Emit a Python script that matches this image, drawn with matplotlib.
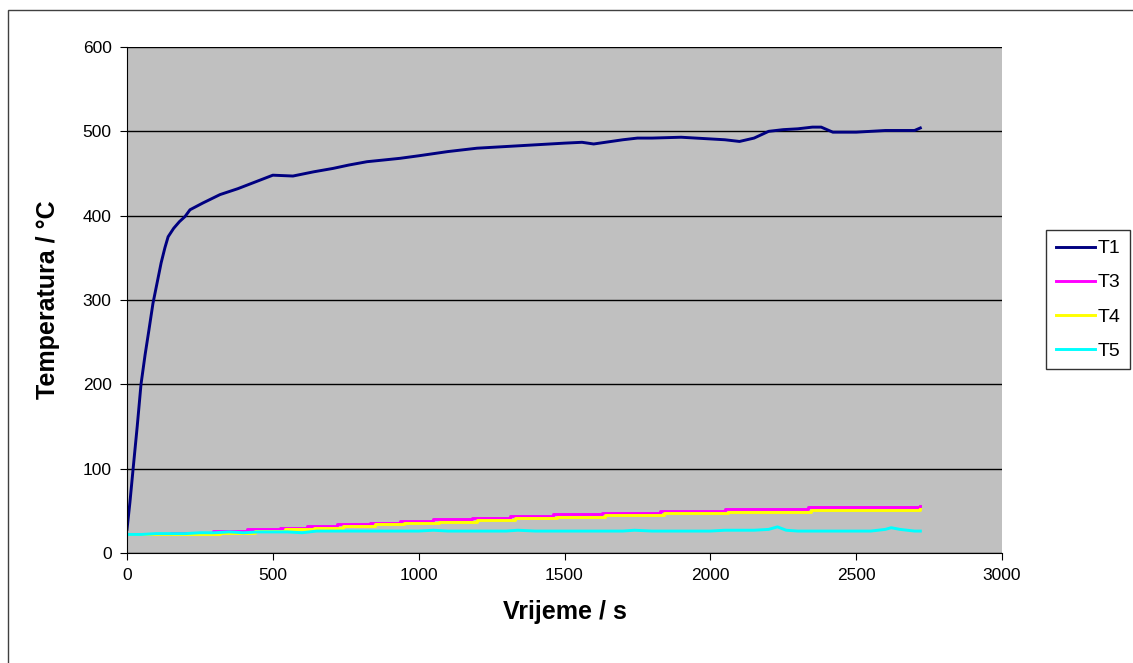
import matplotlib.pyplot as plt
from matplotlib.patches import Rectangle

plt.rcParams['font.family'] = ['Liberation Sans', 'DejaVu Sans']

# T1 - hot side
t1_time = [0, 10, 21, 35, 48, 62, 75, 89, 103, 117, 130, 141, 160, 180, 199, 216, 260, 319, 380,
           440, 500, 569, 640, 706, 760, 823, 880, 936, 1000, 1100, 1200, 1300, 1400, 1500, 1560,
           1600, 1640, 1700, 1750, 1800, 1900, 2000, 2050, 2100, 2150, 2200, 2250, 2300, 2350,
           2380, 2420, 2500, 2600, 2700, 2720]
t1_vals = [28, 60, 100, 150, 200, 235, 264, 296, 320, 344, 362, 375, 385, 393, 399, 407, 415, 425,
           432, 440, 448, 447, 452, 456, 460, 464, 466, 468, 471, 476, 480, 482, 484, 486, 487,
           485, 487, 490, 492, 492, 493, 491, 490, 488, 492, 500, 502, 503, 505, 505, 499, 499,
           501, 501, 504]

# T3 / T4 - stepped readings
t3_time = [0, 150, 295, 411, 525, 617, 720, 833, 936, 1049, 1183, 1313, 1460, 1629, 1827, 2050,
           2335, 2720]
t3_vals = [22, 24, 26, 28, 30, 32, 34, 36, 38, 40, 42, 44, 46, 48, 50, 52, 54, 56]
t4_time = [0, 180, 320, 440, 540, 640, 740, 850, 950, 1070, 1200, 1330, 1475, 1640, 1840, 2060,
           2345, 2720]
t4_vals = [22, 23, 24, 26, 28, 30, 32, 34, 35, 37, 39, 41, 43, 45, 47, 49, 51, 52]

# T5 - cold side
t5_time = [0, 50, 100, 150, 200, 250, 300, 350, 400, 450, 500, 550, 600, 650, 700, 800, 900, 1000,
           1050, 1100, 1200, 1300, 1340, 1400, 1500, 1600, 1700, 1740, 1800, 1900, 2000, 2050,
           2100, 2150, 2200, 2230, 2260, 2300, 2400, 2500, 2550, 2600, 2620, 2650, 2700, 2720]
t5_vals = [22, 22, 23, 23, 23, 24, 24, 25, 24, 25, 25, 25, 24, 26, 26, 26, 26, 26, 27, 26, 26, 26,
           27, 26, 26, 26, 26, 27, 26, 26, 26, 27, 27, 27, 28, 31, 27, 26, 26, 26, 26, 28, 30, 28,
           26, 26]

y_ticks = [0, 100, 200, 300, 400, 500, 600]
x_ticks = [0, 500, 1000, 1500, 2000, 2500, 3000]

fig = plt.figure(figsize=(11.33, 6.63), dpi=100)
ax = fig.add_axes([127 / 1133, 1 - 553 / 663, 875 / 1133, 506 / 663])
ax.set_facecolor('#C0C0C0')

ax.plot(t1_time, t1_vals, color='#000080', lw=2.1, label='T1')
ax.plot(t3_time, t3_vals, color='#FF00FF', lw=2.1, drawstyle='steps-post', label='T3')
ax.plot(t4_time, t4_vals, color='#FFFF00', lw=2.1, drawstyle='steps-post', label='T4')
ax.plot(t5_time, t5_vals, color='#00FFFF', lw=2.1, label='T5')

ax.set_xlim(0, 3000)
ax.set_ylim(0, 600)
ax.set_xticks(x_ticks)
ax.set_yticks(y_ticks)
ax.yaxis.grid(True, color='black', lw=1)
ax.set_axisbelow(True)
ax.tick_params(labelsize=12.5, length=5, direction='out', pad=6)
for s in ['top', 'right']:
    ax.spines[s].set_visible(False)

ax.set_xlabel('Vrijeme / s', fontsize=18, fontweight='bold', labelpad=12)
ax.set_ylabel('Temperatura / °C', fontsize=18, fontweight='bold', labelpad=16)

leg = ax.legend(loc='upper left', bbox_to_anchor=(1046 / 1133, 1 - 230 / 663),
                bbox_transform=fig.transFigure, fontsize=14, frameon=True, fancybox=False,
                handlelength=2.0, handletextpad=0.15, borderaxespad=0, labelspacing=0.85,
                borderpad=0.5)
leg.get_frame().set_edgecolor('black')
leg.get_frame().set_linewidth(1)

# outer chart border
fig.patches.append(Rectangle((8 / 1133, -0.05), 1.1, 1.05 - 10 / 663, transform=fig.transFigure,
                             fill=False, edgecolor='#404040', lw=1))

fig.savefig('out.png', dpi=100)
